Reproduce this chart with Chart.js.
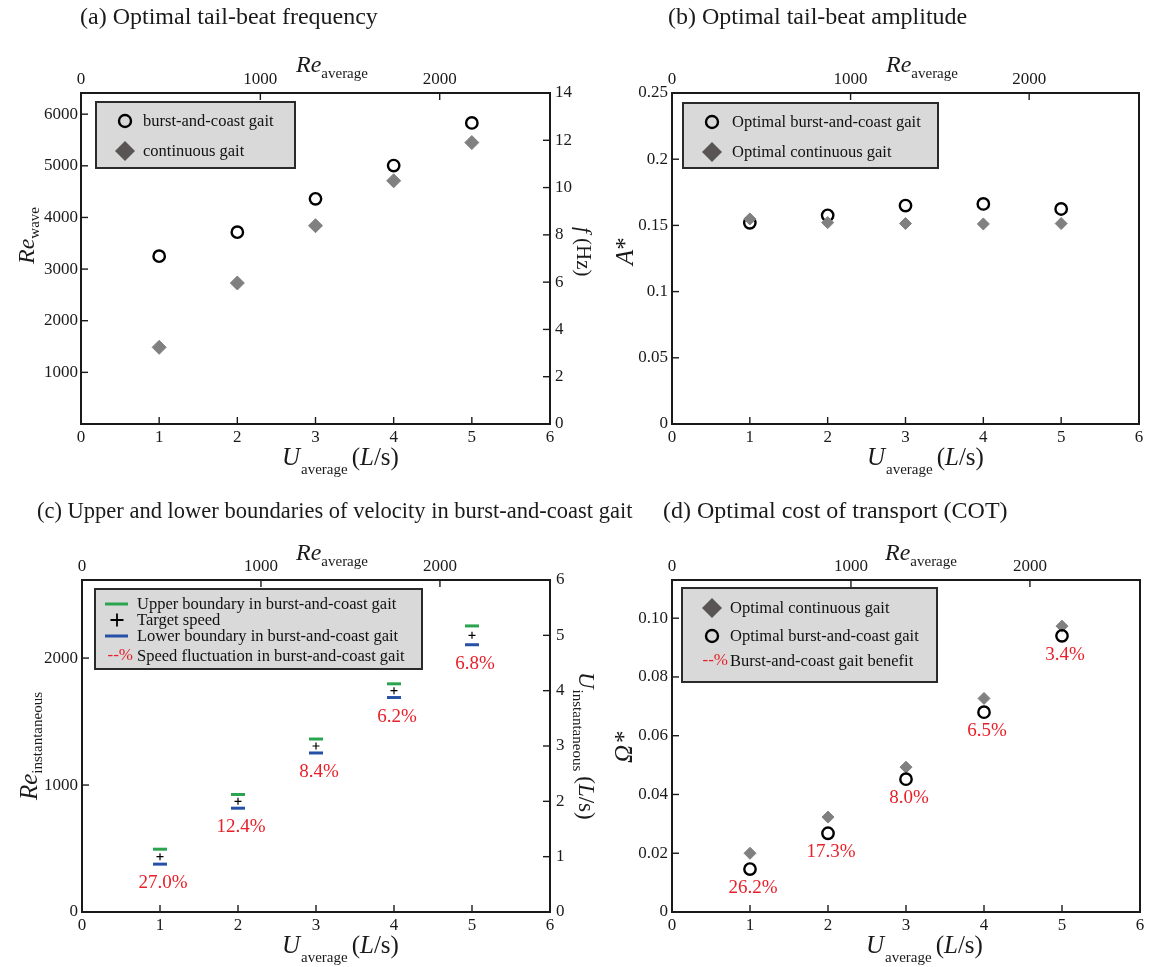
<!DOCTYPE html>
<html>
<head>
<meta charset="utf-8">
<script src="https://cdn.jsdelivr.net/npm/chart.js@4.4.1/dist/chart.umd.min.js"></script>
<style>
  html, body { margin: 0; padding: 0; background: #fff; }
  #wrap { position: relative; width: 1152px; height: 967px; overflow: hidden; background: #fff; }
  #wrap canvas { position: absolute; }
</style>
</head>
<body>
<div id="wrap">
  <canvas id="ca" width="620" height="480" style="left:0;top:0"></canvas>
  <canvas id="cb" width="576" height="480" style="left:576px;top:0"></canvas>
  <canvas id="cc" width="660" height="487" style="left:0;top:480px"></canvas>
  <canvas id="cd" width="552" height="487" style="left:600px;top:480px"></canvas>
</div>
<script>
// ---------- dados ----------
const speeds = [1, 2, 3, 4, 5];                       // U_average (L/s)

// (a) Re_wave
const reWaveBurst = [3250, 3715, 4360, 5005, 5830];
const reWaveCont  = [1485, 2730, 3840, 4710, 5450];

// (b) A*
const ampBurst = [0.1520, 0.1576, 0.1650, 0.1662, 0.1624];
const ampCont  = [0.1549, 0.1521, 0.1514, 0.1511, 0.1514];

// (c) limites de velocidade (L/s)
const upperBound  = [1.135, 2.124, 3.126, 4.124, 5.170];
const targetSpeed = [1, 2, 3, 4, 5];
const lowerBound  = [0.865, 1.876, 2.874, 3.876, 4.830];
const fluctLabels = ['27.0%', '12.4%', '8.4%', '6.2%', '6.8%'];

// (d) COT
const cotCont  = [0.0200, 0.0323, 0.0493, 0.0727, 0.0973];
const cotBurst = [0.0146, 0.0268, 0.0452, 0.0680, 0.0940];
const benefitLabels = ['26.2%', '17.3%', '8.0%', '6.5%', '3.4%'];

// ticks
const uTicks      = [0, 1, 2, 3, 4, 5, 6];
const reAvgTicks  = [0, 1000, 2000];
const reWaveTicks = [1000, 2000, 3000, 4000, 5000, 6000];
const freqTicks   = [0, 2, 4, 6, 8, 10, 12, 14];
const ampTicks    = [0, 0.05, 0.1, 0.15, 0.2, 0.25];
const cotTicks    = [0, 0.02, 0.04, 0.06, 0.08, 0.10];

// faixas dos eixos
const uMax = 6, reAvgMax = 2615, reWaveMax = 6410, freqMax = 14, ampMax = 0.25, cotMax = 0.113;

// ---------- helpers ----------
const SERIF = '"Liberation Serif", "Times New Roman", Times, serif';
const INK = '#1a1a1a';
const RED = '#e8202a';
const F = (size, italic) => `${italic ? 'italic ' : ''}${size}px ${SERIF}`;
const pts = ys => speeds.map((u, i) => ({ x: u, y: ys[i] }));

function axis(pos, max, tickVals, size, pad, cb) {
  return {
    type: 'linear', position: pos, min: 0, max,
    afterBuildTicks: s => { s.ticks = tickVals.map(v => ({ value: v })); },
    afterFit: s => { if (s.isHorizontal()) s.height = size; else s.width = size; },
    grid: { display: false, drawTicks: false },
    border: { display: false },
    ticks: {
      autoSkip: false, maxRotation: 0,
      padding: pad, color: INK, font: { family: SERIF, size: 17 },
      callback: cb || (v => String(v))
    }
  };
}

// texto com subscrito (rotação opcional)
function rich(ctx, x, y, angle, parts) {
  ctx.save();
  ctx.translate(x, y);
  ctx.rotate(angle);
  ctx.textAlign = 'left';
  ctx.textBaseline = 'alphabetic';
  let cx = 0;
  parts.forEach(p => {
    ctx.font = p.font;
    ctx.fillStyle = p.color || INK;
    ctx.fillText(p.t, cx, p.dy || 0);
    cx += ctx.measureText(p.t).width + (p.gap || 0);
  });
  ctx.restore();
}

const reAvgParts = [{ t: 'Re', font: F(24, true) }, { t: 'average', font: F(15), dy: 6 }];
const uAvgParts = [
  { t: 'U', font: F(25, true), gap: 1 }, { t: 'average', font: F(15), dy: 9, gap: 4 },
  { t: '(', font: F(25) }, { t: 'L', font: F(25, true) }, { t: '/s)', font: F(25) }
];

function marker(ctx, m, x, y) {
  ctx.save();
  if (m.type === 'circle') {
    ctx.beginPath(); ctx.arc(x, y, 6, 0, Math.PI * 2);
    ctx.lineWidth = 2.4; ctx.strokeStyle = '#000'; ctx.stroke();
  } else if (m.type === 'diamond') {
    ctx.beginPath();
    ctx.moveTo(x - 10, y); ctx.lineTo(x, y - 10); ctx.lineTo(x + 10, y); ctx.lineTo(x, y + 10);
    ctx.closePath(); ctx.fillStyle = '#5a5555'; ctx.fill();
  } else if (m.type === 'hline') {
    ctx.beginPath(); ctx.moveTo(x - 11.5, y); ctx.lineTo(x + 11.5, y);
    ctx.lineWidth = 3; ctx.strokeStyle = m.color; ctx.stroke();
  } else if (m.type === 'plus') {
    ctx.beginPath();
    ctx.moveTo(x - 6.5, y); ctx.lineTo(x + 6.5, y);
    ctx.moveTo(x, y - 6.5); ctx.lineTo(x, y + 6.5);
    ctx.lineWidth = 1.8; ctx.strokeStyle = '#000'; ctx.stroke();
  } else if (m.type === 'pct') {
    ctx.font = F(17); ctx.fillStyle = RED;
    ctx.textAlign = 'right'; ctx.textBaseline = 'middle';
    ctx.fillText('--%', x, y);
  }
  ctx.restore();
}

function panelPlugin(p) {
  return {
    id: 'panel_' + p.key,
    beforeDatasetsDraw(chart) {
      const ctx = chart.ctx, a = chart.chartArea;
      ctx.save();
      ctx.strokeStyle = INK; ctx.lineWidth = 1.4;
      Object.values(chart.scales).forEach(s => {
        s.ticks.forEach((t, i) => {
          const px = s.getPixelForValue(t.value);
          ctx.beginPath();
          if (s.isHorizontal()) {
            if (px < a.left + 2 || px > a.right - 2) return;
            const y0 = s.position === 'top' ? a.top : a.bottom;
            const d = s.position === 'top' ? 7 : -7;
            ctx.moveTo(px, y0); ctx.lineTo(px, y0 + d);
          } else {
            if (px < a.top + 2 || px > a.bottom - 2) return;
            const x0 = s.position === 'left' ? a.left : a.right;
            const d = s.position === 'left' ? 7 : -7;
            ctx.moveTo(x0, px); ctx.lineTo(x0 + d, px);
          }
          ctx.stroke();
        });
      });
      ctx.lineWidth = 2;
      ctx.strokeRect(a.left, a.top, a.right - a.left, a.bottom - a.top);
      ctx.restore();
    },
    afterDatasetsDraw(chart) {
      const ctx = chart.ctx;
      // rótulos percentuais em vermelho
      if (p.values) {
        const xs = chart.scales.x, ys = chart.scales[p.values.axis];
        ctx.save();
        ctx.font = F(19); ctx.fillStyle = RED;
        ctx.textAlign = 'center'; ctx.textBaseline = 'middle';
        p.values.data.forEach((v, i) => {
          ctx.fillText(p.values.labels[i], xs.getPixelForValue(speeds[i]) + 3, ys.getPixelForValue(v) + p.values.dy);
        });
        ctx.restore();
      }
      // legenda
      const L = p.legend;
      ctx.save();
      ctx.fillStyle = '#d9d9d9';
      ctx.fillRect(L.box[0], L.box[1], L.box[2], L.box[3]);
      ctx.lineWidth = 2; ctx.strokeStyle = '#2a2a2a';
      ctx.strokeRect(L.box[0], L.box[1], L.box[2], L.box[3]);
      L.rows.forEach(r => {
        marker(ctx, r, r.mx, r.y);
        ctx.font = F(16.5); ctx.fillStyle = '#111';
        ctx.textAlign = 'left'; ctx.textBaseline = 'middle';
        ctx.fillText(r.text, L.tx, r.y + 1);
      });
      ctx.restore();
    },
    afterDraw(chart) {
      const ctx = chart.ctx;
      ctx.save();
      ctx.font = F(p.title.size); ctx.fillStyle = INK;
      ctx.textAlign = 'left'; ctx.textBaseline = 'alphabetic';
      ctx.fillText(p.title.text, p.title.x, p.title.y);
      ctx.restore();
      p.labels.forEach(l => rich(ctx, l.x, l.y, l.angle || 0, l.parts));
    }
  };
}

function makeChart(id, datasets, scales, p) {
  return new Chart(document.getElementById(id), {
    type: 'scatter',
    data: { datasets },
    options: {
      responsive: false, animation: false, devicePixelRatio: 1, events: [],
      layout: { padding: p.padding || 0 },
      plugins: { legend: { display: false }, tooltip: { enabled: false }, title: { display: false } },
      scales
    },
    plugins: [panelPlugin(p)]
  });
}

const circleDs = (label, ys) => ({
  label, data: pts(ys), pointStyle: 'circle', pointRadius: 5.7, borderWidth: 2.4,
  borderColor: '#000', backgroundColor: 'rgba(0,0,0,0)'
});
const diamondDs = (label, ys, r) => ({
  label, data: pts(ys), pointStyle: 'rectRot', pointRadius: r, borderWidth: 1,
  borderColor: '#808080', backgroundColor: '#808080'
});

// ---------- (a) ----------
makeChart('ca', [
  circleDs('burst-and-coast gait', reWaveBurst),
  diamondDs('continuous gait', reWaveCont, 7)
], {
  x:  axis('bottom', uMax, uTicks, 56, 3),
  x2: axis('top', reAvgMax, reAvgTicks, 93, 3),
  y:  axis('left', reWaveMax, reWaveTicks, 81, 3),
  y2: axis('right', freqMax, freqTicks, 70, 5)
}, {
  key: 'a',
  title: { text: '(a) Optimal tail-beat frequency', x: 80, y: 24, size: 24 },
  legend: {
    box: [96, 102, 199, 66], tx: 143,
    rows: [
      { type: 'circle', mx: 125, y: 121, text: 'burst-and-coast gait' },
      { type: 'diamond', mx: 125, y: 151, text: 'continuous gait' }
    ]
  },
  labels: [
    { x: 296, y: 72, parts: reAvgParts },
    { x: 282, y: 465, parts: uAvgParts },
    { x: 34, y: 264, angle: -Math.PI / 2, parts: [{ t: 'Re', font: F(24, true) }, { t: 'wave', font: F(15), dy: 5 }] },
    { x: 577, y: 227, angle: Math.PI / 2, parts: [{ t: 'f', font: F(21, true) }, { t: ' (Hz)', font: F(21) }] }
  ]
});

// ---------- (b) ----------
makeChart('cb', [
  diamondDs('Optimal continuous gait', ampCont, 6),
  circleDs('Optimal burst-and-coast gait', ampBurst)
], {
  x:  axis('bottom', uMax, uTicks, 56, 3),
  x2: axis('top', reAvgMax, reAvgTicks, 93, 3),
  y:  axis('left', ampMax, ampTicks, 96, 4, v => String(+v.toFixed(2)))
}, {
  key: 'b', padding: { right: 13 },
  title: { text: '(b) Optimal tail-beat amplitude', x: 92, y: 24, size: 24 },
  legend: {
    box: [107, 103, 255, 65], tx: 156,
    rows: [
      { type: 'circle', mx: 136, y: 122, text: 'Optimal burst-and-coast gait' },
      { type: 'diamond', mx: 136, y: 152, text: 'Optimal continuous gait' }
    ]
  },
  labels: [
    { x: 310, y: 72, parts: reAvgParts },
    { x: 291, y: 465, parts: uAvgParts },
    { x: 57, y: 265, angle: -Math.PI / 2, parts: [{ t: 'A', font: F(25, true) }, { t: '*', font: F(25) }] }
  ]
});

// ---------- (c) ----------
makeChart('cc', [
  { label: 'Upper boundary in burst-and-coast gait', data: pts(upperBound), yAxisID: 'y2',
    pointStyle: 'line', pointRadius: 7, borderWidth: 3, borderColor: '#2aa44f', backgroundColor: '#2aa44f' },
  { label: 'Target speed', data: pts(targetSpeed), yAxisID: 'y2',
    pointStyle: 'cross', pointRadius: 3.5, borderWidth: 1.2, borderColor: '#000', backgroundColor: '#000' },
  { label: 'Lower boundary in burst-and-coast gait', data: pts(lowerBound), yAxisID: 'y2',
    pointStyle: 'line', pointRadius: 7, borderWidth: 3, borderColor: '#2651a6', backgroundColor: '#2651a6' }
], {
  x:  axis('bottom', uMax, uTicks, 55, 3),
  x2: axis('top', reAvgMax, reAvgTicks, 100, 3),
  y:  axis('left', reAvgMax, reAvgTicks, 82, 4),
  y2: axis('right', uMax, uTicks, 110, 6)
}, {
  key: 'c',
  title: { text: '(c) Upper and lower boundaries of velocity in burst-and-coast gait', x: 37, y: 38, size: 22.5 },
  values: { data: lowerBound, labels: fluctLabels, axis: 'y2', dy: 19 },
  legend: {
    box: [95, 109, 327, 80], tx: 137,
    rows: [
      { type: 'hline', color: '#2aa44f', mx: 116.5, y: 124, text: 'Upper boundary in burst-and-coast gait' },
      { type: 'plus', mx: 117, y: 140, text: 'Target speed' },
      { type: 'hline', color: '#2651a6', mx: 116.5, y: 156, text: 'Lower boundary in burst-and-coast gait' },
      { type: 'pct', mx: 133, y: 176, text: 'Speed fluctuation in burst-and-coast gait' }
    ]
  },
  labels: [
    { x: 296, y: 80, parts: reAvgParts },
    { x: 282, y: 473, parts: uAvgParts },
    { x: 37, y: 320, angle: -Math.PI / 2, parts: [{ t: 'Re', font: F(25, true) }, { t: 'instantaneous', font: F(15), dy: 5 }] },
    { x: 579, y: 192, angle: Math.PI / 2, parts: [
      { t: 'U', font: F(23, true), gap: 1 }, { t: 'instantaneous', font: F(15), dy: 6, gap: 5 },
      { t: '(', font: F(23) }, { t: 'L', font: F(23, true) }, { t: '/s)', font: F(23) }
    ] }
  ]
});

// ---------- (d) ----------
makeChart('cd', [
  circleDs('Optimal burst-and-coast gait', cotBurst),
  diamondDs('Optimal continuous gait', cotCont, 6)
], {
  x:  axis('bottom', uMax, uTicks, 55, 3),
  x2: axis('top', reAvgMax, reAvgTicks, 100, 3),
  y:  axis('left', cotMax, cotTicks, 72, 4, v => v === 0 ? '0' : v.toFixed(2))
}, {
  key: 'd', padding: { right: 12 },
  title: { text: '(d) Optimal cost of transport (COT)', x: 63, y: 38, size: 24 },
  values: { data: cotBurst, labels: benefitLabels, axis: 'y', dy: 19 },
  legend: {
    box: [82, 108, 255, 94], tx: 130,
    rows: [
      { type: 'diamond', mx: 112, y: 128, text: 'Optimal continuous gait' },
      { type: 'circle', mx: 112, y: 156, text: 'Optimal burst-and-coast gait' },
      { type: 'pct', mx: 128, y: 181, text: 'Burst-and-coast gait benefit' }
    ]
  },
  labels: [
    { x: 285, y: 80, parts: reAvgParts },
    { x: 266, y: 473, parts: uAvgParts },
    { x: 32, y: 283, angle: -Math.PI / 2, parts: [{ t: 'Ω', font: F(25, true), gap: 2 }, { t: '*', font: F(25) }] }
  ]
});
</script>
</body>
</html>
